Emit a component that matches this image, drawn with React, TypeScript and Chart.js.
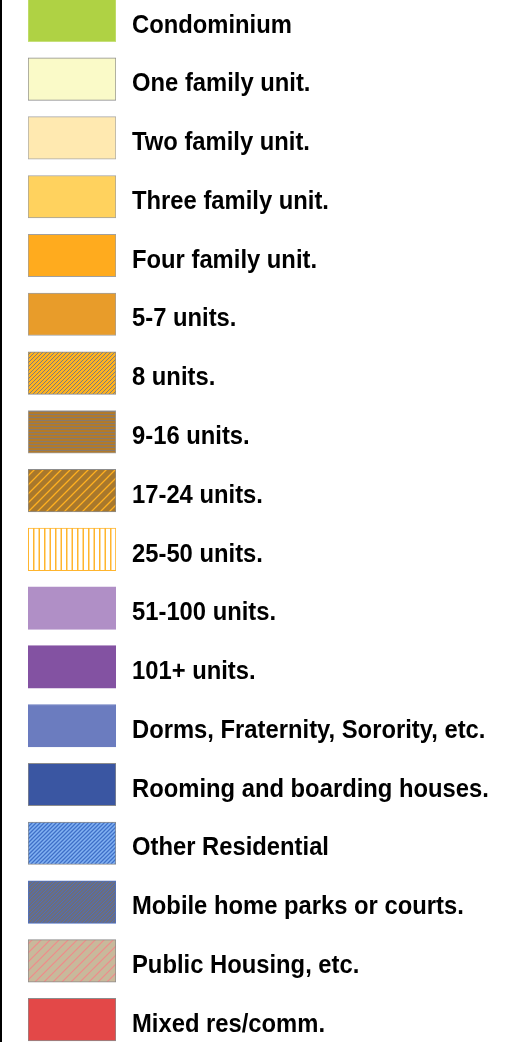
import React, { useEffect, useRef } from "react";
import { Chart, registerables } from "chart.js";

Chart.register(...registerables);

// ---- Data ----
const categories = [
  "Condominium",
  "One family unit.",
  "Two family unit.",
  "Three family unit.",
  "Four family unit.",
  "5-7 units.",
  "8 units.",
  "9-16 units.",
  "17-24 units.",
  "25-50 units.",
  "51-100 units.",
  "101+ units.",
  "Dorms, Fraternity, Sorority, etc.",
  "Rooming and boarding houses.",
  "Other Residential",
  "Mobile home parks or courts.",
  "Public Housing, etc.",
  "Mixed res/comm.",
];

// every legend swatch spans the full (0..1) width of the swatch column
const swatchValues = [1, 1, 1, 1, 1, 1, 1, 1, 1, 1, 1, 1, 1, 1, 1, 1, 1, 1];

// ---- Styles ----
const fillColors = [
  "#afd244", "#fafac8", "#ffe9b0", "#ffd25e", "#ffab1e", "#e89c2a",
  "#ffb21e", "#b27a2a", "#a8782c", "#ffffff", "#b08fc6", "#8352a2",
  "#6b7cbf", "#3a56a2", "#82b2f2", "#6e6e78", "#c8b99b", "#e34848",
];
const hatchKinds = [
  "", "", "", "", "", "",
  "diag", "horiz", "diag", "vert", "", "",
  "", "", "diag", "diag", "diag", "",
];
const hatchColors = [
  "", "", "", "", "", "",
  "#7c7c7c", "#857a70", "#ffb020", "#ffb52e", "", "",
  "", "", "#3f70c8", "#4a6cc0", "#f08a8a", "",
];
const hatchPeriods = [0, 0, 0, 0, 0, 0, 4, 3, 9, 5.5, 0, 0, 0, 0, 4, 3.5, 9, 0];
const hatchWidths = [0, 0, 0, 0, 0, 0, 1, 1, 1.3, 1.5, 0, 0, 0, 0, 1.3, 1, 1.2, 0];
const borderColors = [
  "#c6e07a", "#8c8c8c", "#a8a8a8", "#a0a0a0", "#a0a0a0", "#a0a0a0",
  "#8c8c8c", "#a0a0a0", "#8c8c8c", "#ffb52e", "#b08fc6", "#8352a2",
  "#6b7cbf", "#8c8c8c", "#8c8c8c", "#4f72c4", "#8c8c8c", "#8c8c8c",
];

const labelFontSize = 26;
const labelStretch = 0.915;
const labelStartX = 132;

function makeFill(ctx: CanvasRenderingContext2D, i: number): string | CanvasPattern {
  const kind = hatchKinds[i];
  const bg = fillColors[i];
  if (!kind) return bg;
  const p = hatchPeriods[i];
  const tile = Math.round(p * 2);
  const c = document.createElement("canvas");
  c.width = tile;
  c.height = tile;
  const g = c.getContext("2d")!;
  g.fillStyle = bg;
  g.fillRect(0, 0, tile, tile);
  g.fillStyle = hatchColors[i];
  g.strokeStyle = hatchColors[i];
  const w = hatchWidths[i];
  if (kind === "diag") {
    g.lineWidth = w;
    g.beginPath();
    for (let k = -tile; k <= tile; k += p) {
      g.moveTo(k - 1, tile + 1);
      g.lineTo(k + tile + 1, -1);
    }
    g.stroke();
  } else if (kind === "horiz") {
    for (let y = 0; y < tile; y += p) g.fillRect(0, y, tile, w);
  } else if (kind === "vert") {
    for (let x = 0; x < tile; x += p) g.fillRect(x, 0, w, tile);
  }
  return ctx.createPattern(c, "repeat")!;
}

// narrows the (bold) tick labels horizontally, like a narrow typeface
const narrowLabels = {
  id: "narrowLabels",
  afterDatasetsDraw(chart: any) {
    const ctx = chart.ctx;
    ctx.save();
    ctx.translate(labelStartX, 0);
    ctx.scale(labelStretch, 1);
    ctx.translate(-labelStartX, 0);
  },
  afterDraw(chart: any) {
    chart.ctx.restore();
  },
};

export default function App() {
  const ref = useRef<HTMLCanvasElement | null>(null);

  useEffect(() => {
    const canvas = ref.current!;
    const ctx = canvas.getContext("2d")!;
    const fills = categories.map((_, i) => makeFill(ctx, i));
    const chart = new Chart(canvas, {
      type: "bar",
      data: {
        labels: categories,
        datasets: [
          {
            data: swatchValues,
            backgroundColor: fills as any,
            borderColor: borderColors,
            borderWidth: 1,
            borderSkipped: false,
            barThickness: 42.5,
          },
        ],
      },
      plugins: [narrowLabels],
      options: {
        indexAxis: "y",
        animation: false,
        responsive: false,
        devicePixelRatio: 1,
        layout: { padding: { left: 28, right: 0, top: 0, bottom: 0 } },
        plugins: {
          legend: { display: false },
          tooltip: { enabled: false },
        },
        scales: {
          x: { display: false, min: 0, max: 1 },
          y: {
            type: "category",
            position: "right",
            grid: { display: false, drawTicks: false },
            border: { display: false },
            afterFit: (scale: any) => {
              scale.width = 412;
              scale.paddingTop = 0;
              scale.paddingBottom = 0;
            },
            ticks: {
              z: 1,
              autoSkip: false,
              padding: 16,
              labelOffset: 5,
              color: "#000000",
              font: {
                family: '"Liberation Sans", Arial, sans-serif',
                weight: "bold",
                size: labelFontSize,
              },
            },
          },
        },
      },
    });
    return () => chart.destroy();
  }, []);

  return (
    <div
      style={{
        position: "absolute",
        left: 0,
        top: 0,
        width: 528,
        height: 1042,
        overflow: "hidden",
        background: "#ffffff",
      }}
    >
      <div
        style={{
          position: "absolute",
          left: 0,
          top: 0,
          width: 2,
          height: 1042,
          background: "#000000",
        }}
      />
      <canvas
        ref={ref}
        width={528}
        height={1058}
        style={{ position: "absolute", left: 0, top: -9, width: 528, height: 1058 }}
      />
    </div>
  );
}
